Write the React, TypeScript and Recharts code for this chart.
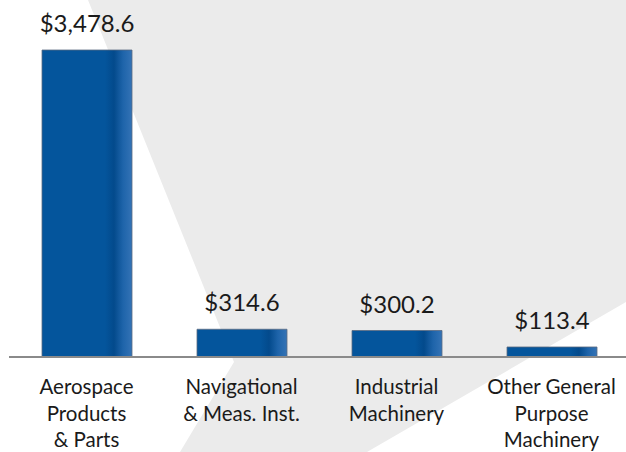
import { BarChart, Bar, XAxis, YAxis, LabelList } from "recharts";

// Top export industries, values in $ millions
const categories = [
  "Aerospace Products & Parts",
  "Navigational & Meas. Inst.",
  "Industrial Machinery",
  "Other General Purpose Machinery",
];
const tickLines = [
  ["Aerospace", "Products", "& Parts"],
  ["Navigational", "& Meas. Inst."],
  ["Industrial", "Machinery"],
  ["Other General", "Purpose", "Machinery"],
];
const values = [3478.6, 314.6, 300.2, 113.4];

const data = categories.map((name, i) => ({ name, value: values[i] }));

const FONT = "Lato, 'Open Sans', sans-serif";

function fmt(v: number): string {
  return "$" + v.toLocaleString("en-US", { minimumFractionDigits: 1, maximumFractionDigits: 1 });
}

function CategoryTick(props: any) {
  const { x, y, payload } = props;
  const lines = tickLines[payload.index] ?? [String(payload.value)];
  return (
    <text x={x} y={y} textAnchor="middle" fontFamily={FONT} fontSize={20.5} fill="#1a1a1a">
      {lines.map((line, i) => (
        <tspan key={i} x={x} dy={i === 0 ? 29 : 26.7}>
          {line}
        </tspan>
      ))}
    </text>
  );
}

export default function App() {
  return (
    <div style={{ position: "absolute", left: 0, top: 0, width: 626, height: 452, background: "#fff" }}>
      <svg width={626} height={452} style={{ position: "absolute", left: 0, top: 0 }}>
        <polygon points="88,0 626,0 626,302 367,452 180,452 234,362" fill="#ebebeb" />
      </svg>
      <div style={{ position: "absolute", left: 0, top: 0 }}>
        <BarChart
          width={626}
          height={452}
          data={data}
          margin={{ top: 50, right: -3, bottom: 0, left: 9 }}
          barSize={90}
        >
          <defs>
            <linearGradient id="barFill" x1="0" y1="0" x2="1" y2="0">
              <stop offset="0%" stopColor="#04559c" />
              <stop offset="70%" stopColor="#04559c" />
              <stop offset="80%" stopColor="#034a8c" />
              <stop offset="90%" stopColor="#1e64aa" />
              <stop offset="100%" stopColor="#3473b6" />
            </linearGradient>
          </defs>
          <YAxis hide domain={[0, 3478.6]} />
          <Bar
            dataKey="value"
            fill="url(#barFill)"
            stroke="#5a6a80"
            strokeWidth={0.8}
            isAnimationActive={false}
          >
            <LabelList
              dataKey="value"
              position="top"
              offset={18}
              formatter={(v: any) => fmt(Number(v))}
              style={{ fontFamily: FONT, fontSize: 24, fill: "#1a1a1a" }}
            />
          </Bar>
          <XAxis
            dataKey="name"
            axisLine={{ stroke: "#8a8a8a", strokeWidth: 2 }}
            tickLine={false}
            interval={0}
            tick={<CategoryTick />}
            height={95}
          />
        </BarChart>
      </div>
    </div>
  );
}
